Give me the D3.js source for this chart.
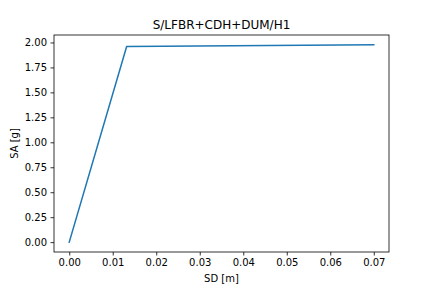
<!DOCTYPE html>
<html><head><meta charset="utf-8">
<script src="https://cdn.jsdelivr.net/npm/d3@7"></script>
<style>body{margin:0;background:#fff}svg{display:block}text{font-family:"DejaVu Sans",sans-serif;fill:#000}</style>
</head><body>
<script>
const sd = [0, 0.0132, 0.07];
const sa = [0, 1.960, 1.976];
const xTicks = [0, 0.01, 0.02, 0.03, 0.04, 0.05, 0.06, 0.07];
const yTicks = [0, 0.25, 0.5, 0.75, 1.0, 1.25, 1.5, 1.75, 2.0];
const title = "S/LFBR+CDH+DUM/H1";
const xLabel = "SD [m]";
const yLabel = "SA [g]";

const W = 432, H = 288;
const L = 54, R = 389, T = 35, B = 252;
const svg = d3.select("body").append("svg").attr("width", W).attr("height", H);

const xmin = d3.min(sd), xmax = d3.max(sd), xr = xmax - xmin;
const ymin = d3.min(sa), ymax = d3.max(sa), yr = ymax - ymin;
const x = d3.scaleLinear().domain([xmin - 0.05*xr, xmax + 0.05*xr]).range([L, R]);
const y = d3.scaleLinear().domain([ymin - 0.05*yr, ymax + 0.05*yr]).range([B, T]);

const xa = svg.append("g").attr("transform", `translate(0,${B})`)
  .call(d3.axisBottom(x).tickValues(xTicks).tickFormat(d3.format(".2f")).tickSizeOuter(0).tickSize(3.5).tickPadding(3.5));
const ya = svg.append("g").attr("transform", `translate(${L},0)`)
  .call(d3.axisLeft(y).tickValues(yTicks).tickFormat(d3.format(".2f")).tickSizeOuter(0).tickSize(3.5).tickPadding(3.5));
[xa, ya].forEach(a => {
  a.select(".domain").remove();
  a.selectAll("text").attr("font-size", 10).attr("font-family", "DejaVu Sans").attr("fill", "#000");
  a.selectAll("line").attr("stroke", "#000").attr("stroke-width", 0.8);
});

svg.append("path").datum(sd.map((d, i) => [d, sa[i]]))
  .attr("fill", "none").attr("stroke", "#1f77b4").attr("stroke-width", 1.5)
  .attr("stroke-linejoin", "round").attr("stroke-linecap", "square")
  .attr("d", d3.line().x(d => x(d[0])).y(d => y(d[1])));

svg.append("rect").attr("x", L).attr("y", T).attr("width", R - L).attr("height", B - T)
  .attr("fill", "none").attr("stroke", "#000").attr("stroke-width", 0.8);

svg.append("text").attr("x", (L + R) / 2).attr("y", 29).attr("text-anchor", "middle").attr("font-size", 12).text(title);
svg.append("text").attr("x", (L + R) / 2).attr("y", 282).attr("text-anchor", "middle").attr("font-size", 10).text(xLabel);
svg.append("text").attr("transform", `translate(18,${(T + B) / 2}) rotate(-90)`).attr("text-anchor", "middle").attr("font-size", 10).text(yLabel);
</script>
</body></html>
